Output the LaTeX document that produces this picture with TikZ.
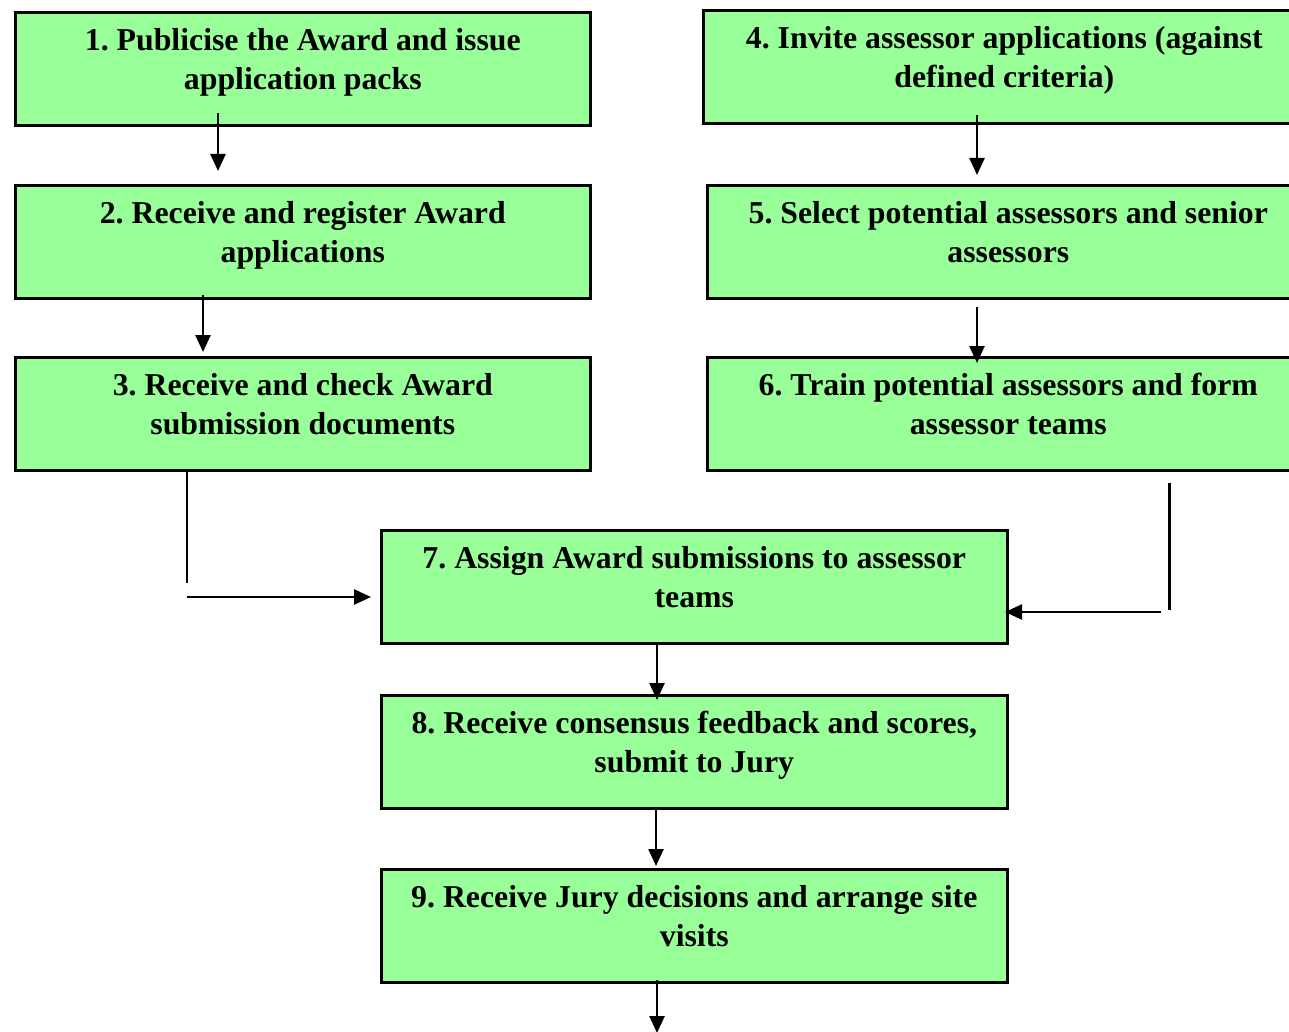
\documentclass[tikz,border=0pt]{standalone}
\usepackage{fontspec}
\setmainfont{Liberation Serif}
\usetikzlibrary{arrows.meta,calc}
\definecolor{boxgreen}{HTML}{99FF99}
\frenchspacing
\begin{document}
\begin{tikzpicture}[x=1pt,y=-1pt,
  stepbox/.style={draw=black,line width=2.6pt,fill=boxgreen,anchor=north west,inner sep=0pt,minimum height=113pt},
  leftbox/.style={stepbox,minimum width=575pt},
  rightbox/.style={stepbox,minimum width=602pt},
  midbox/.style={stepbox,minimum width=626pt},
  txt/.style={anchor=north,inner sep=0pt,align=center,font=\fontsize{31.8}{39}\selectfont\bfseries},
  arr/.style={line width=2.5pt,-{Triangle[length=17pt,width=15pt]}},
  plainline/.style={line width=2.6pt}]
\useasboundingbox (0,0) rectangle (1289,1032);
\clip (0,0) rectangle (1289,1032);
\fill[white] (0,0) rectangle (1289,1032);
% boxes
\node[leftbox] (b1) at (14,11) {};
\node[leftbox] (b2) at (14,184) {};
\node[leftbox] (b3) at (14,356) {};
\node[rightbox] (b4) at (702,9) {};
\node[rightbox] (b5) at (706,184) {};
\node[rightbox] (b6) at (706,356) {};
\node[midbox] (b7) at (380,529) {};
\node[midbox] (b8) at (380,694) {};
\node[midbox] (b9) at (380,868) {};
% texts
\node[txt] (t1) at ($(b1.north)+(0,17)$) {1. Publicise the Award and issue\\application packs};
\node[txt] (t2) at ($(b2.north)+(0,17)$) {2. Receive and register Award\\applications};
\node[txt] (t3) at ($(b3.north)+(0,17)$) {3. Receive and check Award\\submission documents};
\node[txt] (t4) at ($(b4.north)+(0,17)$) {4. Invite assessor applications (against\\defined criteria)};
\node[txt] (t5) at ($(b5.north)+(0,17)$) {5. Select potential assessors and senior\\assessors};
\node[txt] (t6) at ($(b6.north)+(0,17)$) {6. Train potential assessors and form\\assessor teams};
\node[txt] (t7) at ($(b7.north)+(0,17)$) {7. Assign Award submissions to assessor\\teams};
\node[txt] (t8) at ($(b8.north)+(0,17)$) {8. Receive consensus feedback and scores,\\submit to Jury};
\node[txt] (t9) at ($(b9.north)+(0,17)$) {9. Receive Jury decisions and arrange site\\visits};
% connector ends
\coordinate (a12s) at (218,113); \coordinate (a12e) at (218,171);
\coordinate (a23s) at (203,295); \coordinate (a23e) at (203,352);
\coordinate (a45s) at (977,115); \coordinate (a45e) at (977,175);
\coordinate (a56s) at (977,307); \coordinate (a56e) at (977,363);
\coordinate (v3s) at (187,470); \coordinate (v3e) at (187,583);
\coordinate (h3s) at (187,597); \coordinate (h3e) at (371,597);
\coordinate (v6s) at (1169,483); \coordinate (v6e) at (1169,610);
\coordinate (h6s) at (1161,612); \coordinate (h6e) at (1005,612);
\coordinate (a78s) at (657,642); \coordinate (a78e) at (657,700);
\coordinate (a89s) at (656,808); \coordinate (a89e) at (656,866);
\coordinate (a9os) at (657,980); \coordinate (a9oe) at (657,1033);
% connectors
\draw[arr] (a12s) -- (a12e);
\draw[arr] (a23s) -- (a23e);
\draw[arr] (a45s) -- (a45e);
\draw[arr] (a56s) -- (a56e);
\draw[plainline] (v3s) -- (v3e);
\draw[arr] (h3s) -- (h3e);
\draw[plainline,line width=3pt] (v6s) -- (v6e);
\draw[arr] (h6s) -- (h6e);
\draw[arr] (a78s) -- (a78e);
\draw[arr] (a89s) -- (a89e);
\draw[arr] (a9os) -- (a9oe);
\end{tikzpicture}
\end{document}
